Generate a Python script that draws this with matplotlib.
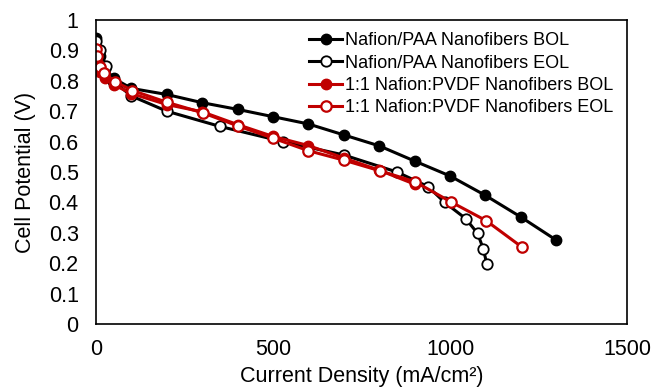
import matplotlib
matplotlib.use("Agg")
import matplotlib.pyplot as plt

plt.rcParams['font.family'] = ['Liberation Sans', 'DejaVu Sans']

# Nafion/PAA Nanofibers BOL
paa_bol_x = [0, 10, 25, 50, 100, 200, 300, 400, 500, 600, 700, 800, 900, 1000, 1100, 1200, 1300]
paa_bol_y = [0.94, 0.88, 0.84, 0.808, 0.775, 0.755, 0.728, 0.706, 0.682, 0.658, 0.622, 0.586, 0.536, 0.487, 0.423, 0.352, 0.276]

# Nafion/PAA Nanofibers EOL
paa_eol_x = [0, 12, 27, 48, 100, 200, 350, 528, 700, 850, 938, 985, 1044, 1078, 1094, 1104]
paa_eol_y = [0.93, 0.90, 0.85, 0.80, 0.75, 0.70, 0.65, 0.60, 0.556, 0.50, 0.452, 0.40, 0.347, 0.298, 0.247, 0.198]

# 1:1 Nafion:PVDF Nanofibers BOL
pvdf_bol_x = [0, 5, 10, 25, 50, 100, 200, 300, 400, 500, 600, 700, 800, 900]
pvdf_bol_y = [0.88, 0.855, 0.83, 0.81, 0.787, 0.758, 0.722, 0.698, 0.656, 0.617, 0.587, 0.546, 0.506, 0.460]

# 1:1 Nafion:PVDF Nanofibers EOL
pvdf_eol_x = [0, 4, 11, 23, 54, 103, 201, 301, 402, 501, 600, 700, 802, 901, 1002, 1102, 1202]
pvdf_eol_y = [0.905, 0.88, 0.846, 0.825, 0.797, 0.768, 0.729, 0.695, 0.651, 0.611, 0.570, 0.539, 0.504, 0.468, 0.402, 0.340, 0.254]

labels = ["Nafion/PAA Nanofibers BOL", "Nafion/PAA Nanofibers EOL",
          "1:1 Nafion:PVDF Nanofibers BOL", "1:1 Nafion:PVDF Nanofibers EOL"]

x_ticks = [0, 500, 1000, 1500]
y_ticks = [0, 0.1, 0.2, 0.3, 0.4, 0.5, 0.6, 0.7, 0.8, 0.9, 1]
y_ticklabels = ["0", "0.1", "0.2", "0.3", "0.4", "0.5", "0.6", "0.7", "0.8", "0.9", "1"]

red = "#C00000"

fig = plt.figure(figsize=(6.54, 3.91), dpi=100)
ax = fig.add_axes([96/654, 1 - 324/391, (627-96)/654, (324-20)/391])

lw = 2.2
ms = 7.5
ax.plot(paa_bol_x, paa_bol_y, color="black", lw=lw, marker="o", ms=ms,
        mfc="black", mec="black", label=labels[0])
ax.plot(paa_eol_x, paa_eol_y, color="black", lw=lw, marker="o", ms=ms,
        mfc="white", mec="black", mew=1.3, label=labels[1])
ax.plot(pvdf_bol_x, pvdf_bol_y, color=red, lw=lw, marker="o", ms=ms,
        mfc=red, mec=red, label=labels[2])
ax.plot(pvdf_eol_x, pvdf_eol_y, color=red, lw=lw, marker="o", ms=ms,
        mfc="white", mec=red, mew=1.6, label=labels[3])

ax.set_xlim(0, 1500)
ax.set_ylim(0, 1)
ax.set_xticks(x_ticks)
ax.set_yticks(y_ticks)
ax.set_yticklabels(y_ticklabels)
ax.tick_params(length=0, labelsize=15.5)
ax.tick_params(axis="y", pad=12.5)
ax.tick_params(axis="x", pad=11)
for s in ax.spines.values():
    s.set_linewidth(1.2)
    s.set_color("black")

ax.set_xlabel("Current Density (mA/cm²)", fontsize=15.5, labelpad=4)
ax.set_ylabel("Cell Potential (V)", fontsize=15.5, labelpad=9)

ax.legend(loc="upper left", bbox_to_anchor=(0.401, 0.96), frameon=False, fontsize=13,
          handlelength=1.85, handletextpad=0.15, labelspacing=0.3,
          borderaxespad=0, borderpad=0)

fig.savefig("out.png", dpi=100)
